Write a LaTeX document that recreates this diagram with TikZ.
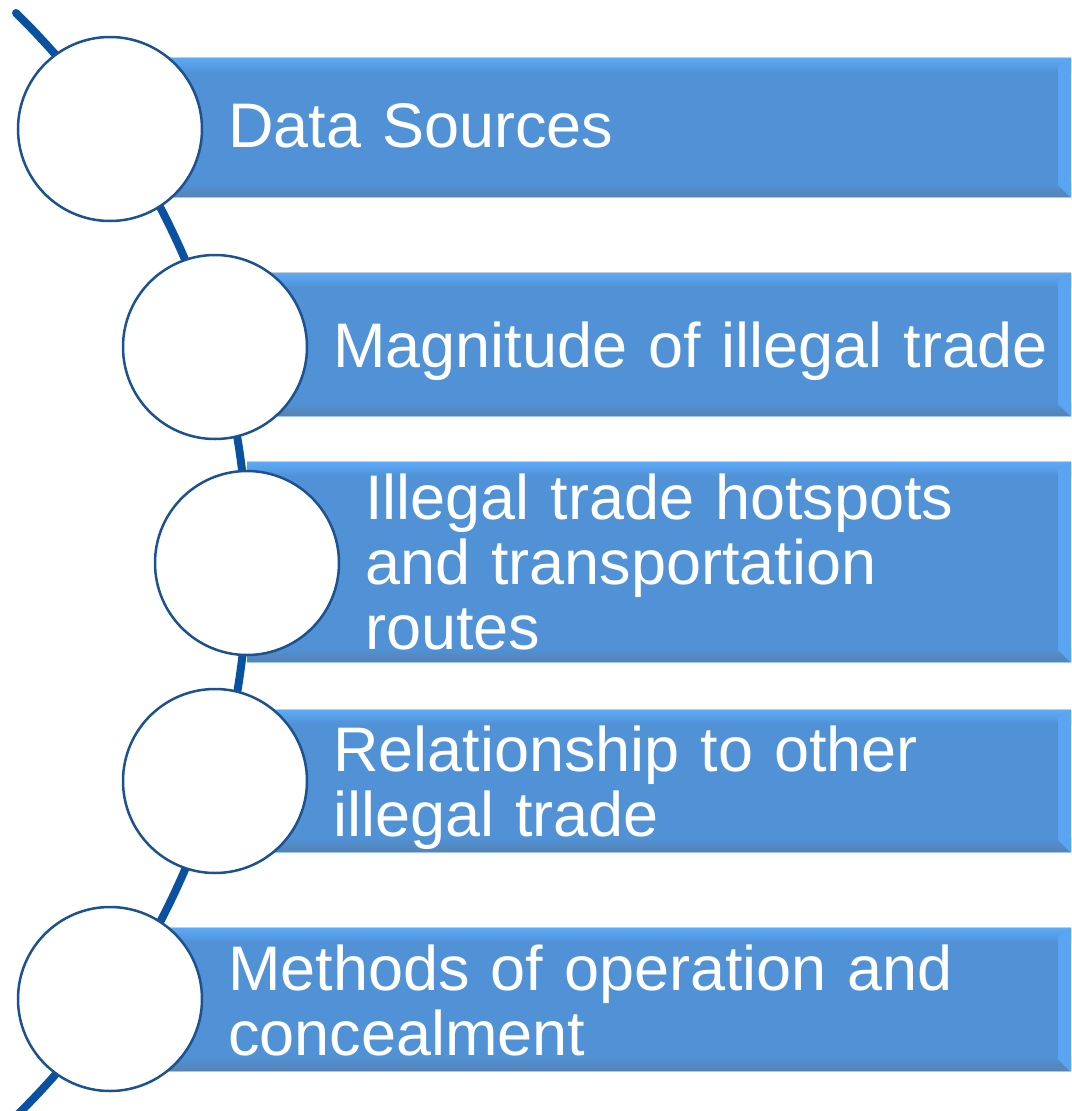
\documentclass[tikz,border=0pt]{standalone}
\usepackage{fontspec}
\setmainfont{Liberation Sans}
\definecolor{barmain}{HTML}{5092D5}
\definecolor{bartop}{HTML}{5DA9F8}
\definecolor{barbot}{HTML}{5583B6}
\definecolor{barright}{HTML}{5AA4F2}
\definecolor{barline}{HTML}{C4CCD6}
\definecolor{barlow}{HTML}{9CC8F2}
\definecolor{circedge}{HTML}{1D5290}
\definecolor{spine}{HTML}{0A52A0}
\newcommand{\mybar}[3]{%
  \draw[barline, line width=1.5pt] (#1,#2-0.5) -- (1071,#2-0.5);
  \fill[barmain] (#1,#2) rectangle (1071,#3);
  \shade[top color=bartop, bottom color=barmain] (#1,#2) rectangle (1071,#2+14);
  \shade[top color=barmain, bottom color=barbot] (#1,#3-15) rectangle (1071,#3-1.5);
  \fill[barright] (1058,#2+8) -- (1071,#2) -- (1071,#3) -- (1058,#3-13) -- cycle;
  \draw[barlow, line width=1.5pt] (#1,#3-0.5) -- (1071,#3-0.5);
}
\tikzset{
  circ/.style={circle, draw=circedge, line width=2.5pt, fill=white, minimum size=184pt, inner sep=0pt},
  lbl/.style={anchor=base west, inner sep=0pt, text=white, align=left, text width=740pt,
    font=\fontsize{63}{65}\selectfont},
  spineline/.style={draw=spine, line width=8pt, line cap=round}
}
\begin{document}
\begin{tikzpicture}[x=1pt, y=-1pt]
\useasboundingbox (0,0) rectangle (1071,1111);
% spine arc
\coordinate (arcstart) at (16,13);
\draw[spineline] (arcstart) arc[start angle=45.6, end angle=-47, radius=772pt];
% bars
\mybar{110}{58}{198}
\mybar{215}{273}{417}
\mybar{247}{462}{663}
\mybar{215}{710}{853}
\mybar{110}{928}{1072}
% circles
\node[circ] (c1) at (110,129) {};
\node[circ] (c2) at (215,347) {};
\node[circ] (c3) at (247,563) {};
\node[circ] (c4) at (215,781) {};
\node[circ] (c5) at (110,999) {};
% labels
\node[lbl] (t1) at (228,147) {Data Sources};
\node[lbl] (t2) at (333,367) {Magnitude of illegal trade};
\node[lbl] (t3) at (365,519) {Illegal trade hotspots\\and transportation\\routes};
\node[lbl] (t4) at (333,771) {Relationship to other\\illegal trade};
\node[lbl] (t5) at (228,990) {Methods of operation and\\concealment};
\end{tikzpicture}
\end{document}
